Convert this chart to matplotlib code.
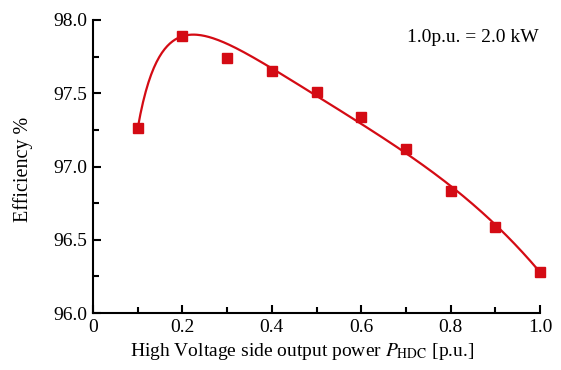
import numpy as np
import matplotlib
matplotlib.use("Agg")
import matplotlib.pyplot as plt
from matplotlib.ticker import MultipleLocator, FormatStrFormatter

plt.rcParams['font.family'] = ['Liberation Serif', 'DejaVu Serif']
plt.rcParams['mathtext.fontset'] = 'stix'

# measured efficiency vs. HV side output power
power = [0.1, 0.2, 0.3, 0.4, 0.5, 0.6, 0.7, 0.8, 0.9, 1.0]
efficiency = [97.26, 97.89, 97.74, 97.65, 97.51, 97.34, 97.12, 96.83, 96.59, 96.28]
fit_weights = [10, 10, 1, 1, 1, 1, 1, 1, 2, 5]

RED = '#d40b14'

# weighted least-squares trend line: eta = a + b*x + c*x^2 + d*x^3 + e/x
p = np.array(power)
w = np.array(fit_weights, dtype=float)
basis = lambda x: np.column_stack([np.ones_like(x), x, x ** 2, x ** 3, 1 / x])
coef, *_ = np.linalg.lstsq(basis(p) * w[:, None], np.array(efficiency) * w, rcond=None)
pf = np.linspace(p.min(), p.max(), 300)
eta_fit = basis(pf) @ coef

fig = plt.figure(figsize=(5.61, 3.70), dpi=100)
ax = fig.add_axes([93 / 561, 57 / 370, 447 / 561, 293 / 370])

ax.plot(pf, eta_fit, color=RED, lw=1.6, clip_on=False)
ax.plot(power, efficiency, 's', color=RED, ms=7, mec=RED, clip_on=False, zorder=3)

ax.set_xlim(0, 1.0)
ax.set_ylim(96.0, 98.0)
ax.xaxis.set_minor_locator(MultipleLocator(0.1))
ax.yaxis.set_major_locator(MultipleLocator(0.5))
ax.yaxis.set_minor_locator(MultipleLocator(0.25))
ax.set_xticks([0, 0.2, 0.4, 0.6, 0.8, 1.0])
ax.set_xticklabels(['0', '0.2', '0.4', '0.6', '0.8', '1.0'])
ax.yaxis.set_major_formatter(FormatStrFormatter('%.1f'))

for s in ['top', 'right']:
    ax.spines[s].set_visible(False)
for s in ['left', 'bottom']:
    ax.spines[s].set_linewidth(1.5)
ax.tick_params(which='major', direction='in', length=6, width=1.5, labelsize=14, pad=4)
ax.tick_params(which='minor', direction='in', length=4, width=1.5)

ax.set_xlabel(r'High Voltage side output power $P_{\mathrm{HDC}}$ [p.u.]', fontsize=14)
ax.xaxis.set_label_coords(0.468, -0.095)
ax.set_ylabel('Efficiency %', fontsize=14.5, labelpad=15)
ax.yaxis.label.set_y(0.49)

ax.text(0.998, 0.939, '1.0p.u. = 2.0 kW', transform=ax.transAxes,
        ha='right', va='center', fontsize=14)

fig.savefig('out.png', dpi=100)
